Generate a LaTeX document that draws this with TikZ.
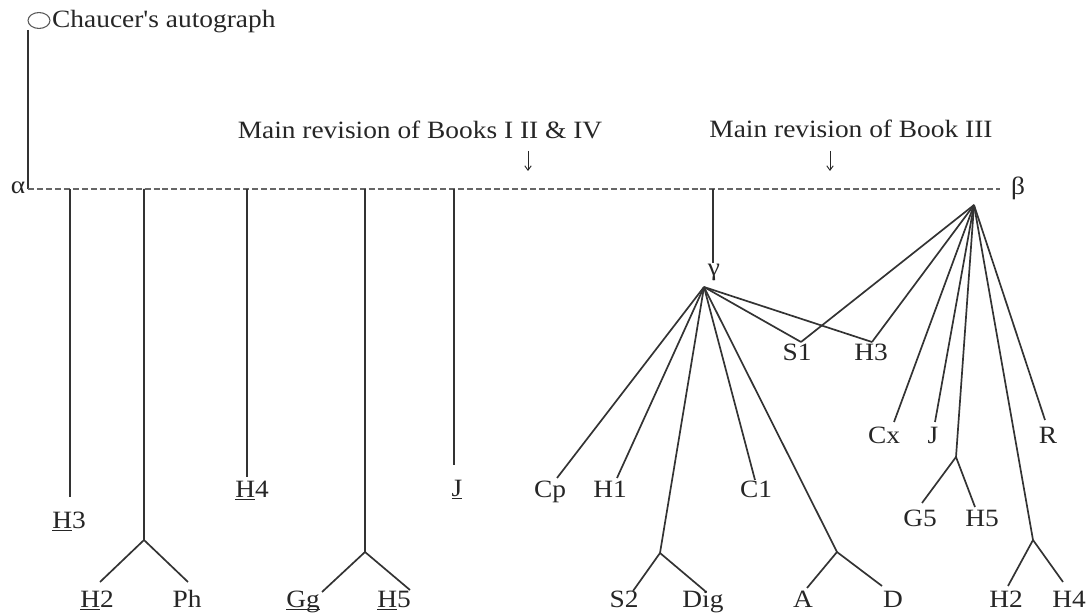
\documentclass[tikz,border=0pt]{standalone}
\usepackage{fontspec}
\setmainfont{Liberation Serif}[FakeStretch=1.1, Ligatures=TeXOff]
\usetikzlibrary{arrows.meta,shapes.geometric}
\newcommand\ulx[1]{\setbox0\hbox{#1}\rlap{\rule[-3pt]{\wd0}{0.9pt}}\box0\relax}
\tikzset{
  lbl/.style={font=\fontsize{25}{28}\selectfont, inner sep=0pt, anchor=base, text=black!85},
  sym/.style={font=\fontsize{25}{28}\selectfont, inner sep=0pt, text=black!85},
  edge/.style={line width=1.7pt, draw=black!80},
  dashline/.style={line width=1.4pt, draw=black!60, dash pattern=on 6pt off 3pt},
  tip/.style={line width=0.9pt, draw=black!85, -{Straight Barb[length=4.5pt,width=6.5pt]}}
}
\begin{document}
\begin{tikzpicture}[x=1bp,y=-1bp]
\useasboundingbox (0,0) rectangle (1087,616);
% top
\node[draw=black!65, line width=1.1pt, ellipse, minimum width=22pt, minimum height=16pt, inner sep=0pt] (circ) at (39,20.5) {};
\node[lbl, anchor=base west] (auto) at (52,28) {Chaucer's autograph};
\coordinate (top) at (28,30);
\coordinate (dl) at (28,189);
\coordinate (dr) at (1000,189);
\node[sym] (alpha) at (18,188) {α};
\node[sym] (beta) at (1018,188) {β};
\draw[edge] (top) -- (dl);
\draw[dashline] (dl) -- (dr);
% revision notes
\node[lbl] (rev1) at (420,139) {Main revision of Books I II \& IV};
\node[lbl] (rev2) at (851,138) {Main revision of Book III};
\coordinate (a1s) at (528,151); \coordinate (a1e) at (528,171);
\coordinate (a2s) at (830,151); \coordinate (a2e) at (830,171);
\draw[tip] (a1s) -- (a1e);
\draw[tip] (a2s) -- (a2e);
% left stems
\coordinate (s1) at (70,189); \coordinate (e1) at (70,497);
\node[lbl] (H3l) at (69,528) {\ulx{H}3};
\draw[edge] (s1) -- (e1);
\coordinate (s2) at (144,189); \coordinate (b2) at (144,540);
\coordinate (e2a) at (100,582); \coordinate (e2b) at (188,582);
\node[lbl] (H2l) at (97,607) {\ulx{H}2};
\node[lbl] (Ph) at (187,607) {Ph};
\draw[edge] (s2) -- (b2) -- (e2a);
\draw[edge] (b2) -- (e2b);
\coordinate (s3) at (247,189); \coordinate (e3) at (247,477);
\node[lbl] (H4l) at (252,497) {\ulx{H}4};
\draw[edge] (s3) -- (e3);
\coordinate (s4) at (365,189); \coordinate (b4) at (365,552);
\coordinate (e4a) at (322,592); \coordinate (e4b) at (410,590);
\node[lbl] (Gg) at (303,607) {\ulx{Gg}};
\node[lbl] (H5l) at (394,607) {\ulx{H}5};
\draw[edge] (s4) -- (b4) -- (e4a);
\draw[edge] (b4) -- (e4b);
\coordinate (s5) at (454,189); \coordinate (e5) at (454,465);
\node[lbl] (Jl) at (457,496) {\ulx{J}};
\draw[edge] (s5) -- (e5);
% gamma
\coordinate (s6) at (713,189); \coordinate (e6) at (713,263);
\node[sym] (gamma) at (714,272) {γ};
\draw[edge] (s6) -- (e6);
\coordinate (g) at (704,287);
\coordinate (cpE) at (557,478); \node[lbl] (Cp) at (550,497) {Cp};
\coordinate (h1E) at (617,478); \node[lbl] (H1) at (610,497) {H1};
\coordinate (sdB) at (660,553);
\coordinate (s2E) at (633,591); \node[lbl] (S2) at (624,607) {S2};
\coordinate (dgE) at (705,591); \node[lbl] (Dig) at (703,607) {Dig};
\coordinate (c1E) at (755,480); \node[lbl] (C1) at (756,497) {C1};
\coordinate (adB) at (837,552);
\coordinate (aE) at (807,588); \node[lbl] (A) at (803,607) {A};
\coordinate (dE) at (882,586); \node[lbl] (D) at (893,607) {D};
\coordinate (s1E) at (801,342); \node[lbl] (S1) at (797,360) {S1};
\coordinate (h3E) at (872,342); \node[lbl] (H3r) at (871,360) {H3};
\draw[edge] (g) -- (cpE);
\draw[edge] (g) -- (h1E);
\draw[edge] (g) -- (sdB) -- (s2E);
\draw[edge] (sdB) -- (dgE);
\draw[edge] (g) -- (c1E);
\draw[edge] (g) -- (adB) -- (aE);
\draw[edge] (adB) -- (dE);
\draw[edge] (g) -- (s1E);
\draw[edge] (g) -- (h3E);
% beta
\coordinate (b) at (974,205);
\coordinate (cxE) at (894,422); \node[lbl] (Cx) at (884,443) {Cx};
\coordinate (jE) at (935,422); \node[lbl] (Jr) at (933,443) {J};
\coordinate (ghB) at (956,457);
\coordinate (g5E) at (922,503); \node[lbl] (G5) at (920,526) {G5};
\coordinate (h5E) at (975,507); \node[lbl] (H5r) at (982,526) {H5};
\coordinate (hhB) at (1033,540);
\coordinate (h2E) at (1008,586); \node[lbl] (H2r) at (1006,607) {H2};
\coordinate (h4E) at (1063,582); \node[lbl] (H4r) at (1069,607) {H4};
\coordinate (rE) at (1045,420); \node[lbl] (R) at (1048,443) {R};
\draw[edge] (b) -- (s1E);
\draw[edge] (b) -- (h3E);
\draw[edge] (b) -- (cxE);
\draw[edge] (b) -- (jE);
\draw[edge] (b) -- (ghB) -- (g5E);
\draw[edge] (ghB) -- (h5E);
\draw[edge] (b) -- (hhB) -- (h2E);
\draw[edge] (hhB) -- (h4E);
\draw[edge] (b) -- (rE);
\end{tikzpicture}
\end{document}
